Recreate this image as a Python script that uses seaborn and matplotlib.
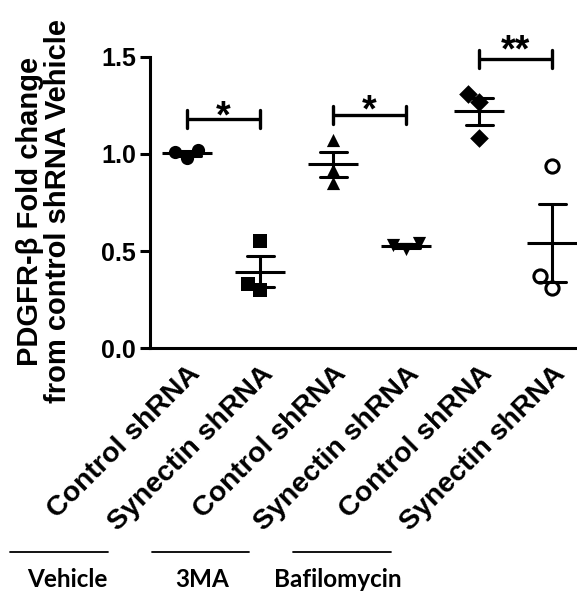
import matplotlib
matplotlib.use("Agg")
import matplotlib.pyplot as plt
import seaborn as sns
import pandas as pd
from matplotlib.lines import Line2D

# ---- data ----
treatments = ["Vehicle", "Vehicle", "3MA", "3MA", "Bafilomycin", "Bafilomycin"]
shrna_labels = ["Control shRNA", "Synectin shRNA", "Control shRNA",
                "Synectin shRNA", "Control shRNA", "Synectin shRNA"]
vehicle_control = [1.02, 0.98, 1.01]
vehicle_synectin = [0.55, 0.33, 0.30]
ma3_control = [1.07, 0.92, 0.85]
ma3_synectin = [0.54, 0.51, 0.53]
baf_control = [1.31, 1.27, 1.08]
baf_synectin = [0.94, 0.31, 0.37]
y_ticks = [0.0, 0.5, 1.0, 1.5]
sig_pairs = [(0, 1), (2, 3), (4, 5)]
sig_heights = [1.18, 1.20, 1.49]
sig_star_centers = [1.24, 1.27, 1.58]
sig_labels = ["*", "*", "**"]
group_labels = ["Vehicle", "3MA", "Bafilomycin"]

series = [vehicle_control, vehicle_synectin, ma3_control,
          ma3_synectin, baf_control, baf_synectin]
keys = [f"{t} | {s}" for t, s in zip(treatments, shrna_labels)]
df = pd.DataFrame({
    "group": [k for k, vals in zip(keys, series) for _ in vals],
    "value": [v for vals in series for v in vals],
})

sns.set_style("ticks")
plt.rcParams["font.family"] = ["Liberation Sans", "DejaVu Sans"]
plt.rcParams["font.weight"] = "bold"
plt.rcParams["axes.labelweight"] = "bold"
for k in ("text.color", "axes.labelcolor", "xtick.color", "ytick.color",
          "axes.edgecolor"):
    plt.rcParams[k] = "black"

fig = plt.figure(figsize=(5.77, 5.93), dpi=100)
ax = fig.add_axes([0.26, 0.413, 0.74, 0.491])

marker_styles = [
    dict(marker="o", color="black", linewidth=0),
    dict(marker="s", color="black", linewidth=0),
    dict(marker="^", color="black", linewidth=0),
    dict(marker="v", color="black", linewidth=0),
    dict(marker="D", color="black", linewidth=0),
    dict(marker="o", color="white", edgecolor="black", linewidth=2.2),
]
for key, style in zip(keys, marker_styles):
    sub = df[df["group"] == key]
    sns.swarmplot(data=sub, x="group", y="value", order=keys, size=9.5,
                  ax=ax, zorder=3, **style)

sns.pointplot(data=df, x="group", y="value", order=keys, errorbar="se",
              capsize=0.37, linestyle="none", marker="_", markersize=36,
              markeredgewidth=2.2, color="black",
              err_kws={"linewidth": 2.2}, ax=ax, zorder=4)

# significance brackets
for (i, j), h, sy, lab in zip(sig_pairs, sig_heights, sig_star_centers,
                              sig_labels):
    ax.plot([i, j], [h, h], color="black", lw=2.4, clip_on=False,
            solid_capstyle="butt")
    for x in (i, j):
        ax.plot([x, x], [h - 0.045, h + 0.045], color="black", lw=2.4,
                clip_on=False, solid_capstyle="round")
    ax.text((i + j) / 2, sy - 0.145, lab, ha="center", va="bottom",
            fontsize=27, fontweight="bold", clip_on=False)

ax.set_ylim(0, 1.5)
ax.set_xlim(-0.507, 5.34)
ax.set_yticks(y_ticks)
ax.set_yticklabels([f"{t:.1f}" for t in y_ticks], fontsize=18,
                   fontweight="bold")
ax.set_xticks(range(len(keys)))
ax.set_xticklabels(shrna_labels, rotation=45, ha="right",
                   rotation_mode="anchor", fontsize=20.5, fontweight="bold")
ax.tick_params(axis="x", length=0, pad=9)
ax.tick_params(axis="y", length=7, width=2.2, pad=3)
ax.set_xlabel("")
ax.set_ylabel("PDGFR-β Fold change\nfrom control shRNA Vehicle",
              fontsize=21, fontweight="bold", linespacing=1.0)
ax.yaxis.set_label_coords(-0.183, 0.47)
for sp in ("top", "right"):
    ax.spines[sp].set_visible(False)
for sp in ("left", "bottom"):
    ax.spines[sp].set_linewidth(2.2)

# treatment group labels below
line_spans = [(0.017, 0.187), (0.263, 0.432), (0.508, 0.678)]
text_x = [0.116, 0.35, 0.586]
for (x0, x1), tx, lab in zip(line_spans, text_x, group_labels):
    fig.add_artist(Line2D([x0, x1], [0.069, 0.069], color="black", lw=1.3,
                          transform=fig.transFigure))
    fig.text(tx, 0.022, lab, ha="center", va="center", fontsize=17.5,
             fontweight="bold", family=["Lato", "DejaVu Sans"])

fig.savefig("out.png", dpi=100)
